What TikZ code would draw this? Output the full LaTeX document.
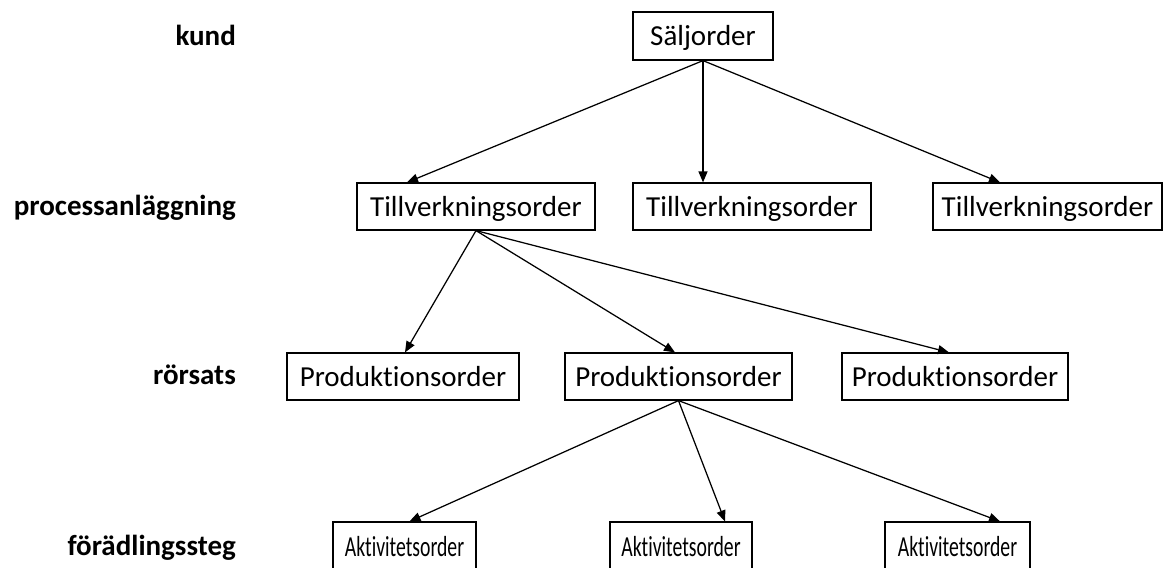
\documentclass[tikz,border=0pt]{standalone}
\usepackage{fontspec}
\setmainfont{Carlito}[Ligatures=NoCommon]
\usetikzlibrary{arrows.meta,calc}
\begin{document}
\begin{tikzpicture}[x=1pt,y=-1pt,
  box/.style={draw, line width=1.2pt, inner sep=0pt, minimum height=47pt,
    text height=19pt, text depth=0pt, font=\fontsize{29}{34}\selectfont},
  level/.style={anchor=base east, inner sep=0pt, font=\fontsize{29}{34}\selectfont\bfseries},
  link/.style={line width=1.25pt, -{Triangle[length=11pt,width=9pt]}}]
\clip (0,0) rectangle (1163,568);

% level labels
\node[level] (lkund) at (236,45) {kund};
\node[level] (lproc) at (236,215) {processanläggning};
\node[level] (lror)  at (236,384) {rörsats};
\node[level] (lfor)  at (236,555) {förädlingssteg};

% order boxes
\node[box, minimum width=140pt, minimum height=48pt] (sal) at (703,36) {Säljorder};

\node[box, minimum width=238pt] (to1) at (476,206.5) {Tillverkningsorder};
\node[box, minimum width=238pt] (to2) at (752,206.5) {Tillverkningsorder};
\node[box, minimum width=229pt] (to3) at (1047.5,206.5) {Tillverkningsorder};

\node[box, minimum width=232pt] (po1) at (403,376.5) {Produktionsorder};
\node[box, minimum width=227pt] (po2) at (678.5,376.5) {Produktionsorder};
\node[box, minimum width=226pt] (po3) at (955,376.5) {Produktionsorder};

\node[box, minimum width=143pt, text height=22pt] (a1) at (404.5,545.5) {\scalebox{0.68}[1]{Aktivitetsorder}};
\node[box, minimum width=142pt, text height=22pt] (a2) at (681,545.5) {\scalebox{0.68}[1]{Aktivitetsorder}};
\node[box, minimum width=145pt, text height=22pt] (a3) at (957.5,545.5) {\scalebox{0.68}[1]{Aktivitetsorder}};

% connectors
\draw[link] (sal.south) -- ([xshift=-69pt]to1.north);
\draw[link] (sal.south) -- ([xshift=-49pt]to2.north);
\draw[link] (sal.south) -- ([xshift=-47.5pt]to3.north);

\draw[link] (to1.south) -- ([xshift=2pt]po1.north);
\draw[link] (to1.south) -- ([xshift=-3.5pt]po2.north);
\draw[link] (to1.south) -- ([xshift=-6pt]po3.north);

\draw[link] (po2.south) -- ([xshift=5pt]a1.north);
\draw[link] (po2.south) -- ([xshift=44pt]a2.north);
\draw[link] (po2.south) -- ([xshift=42.5pt]a3.north);
\end{tikzpicture}
\end{document}
